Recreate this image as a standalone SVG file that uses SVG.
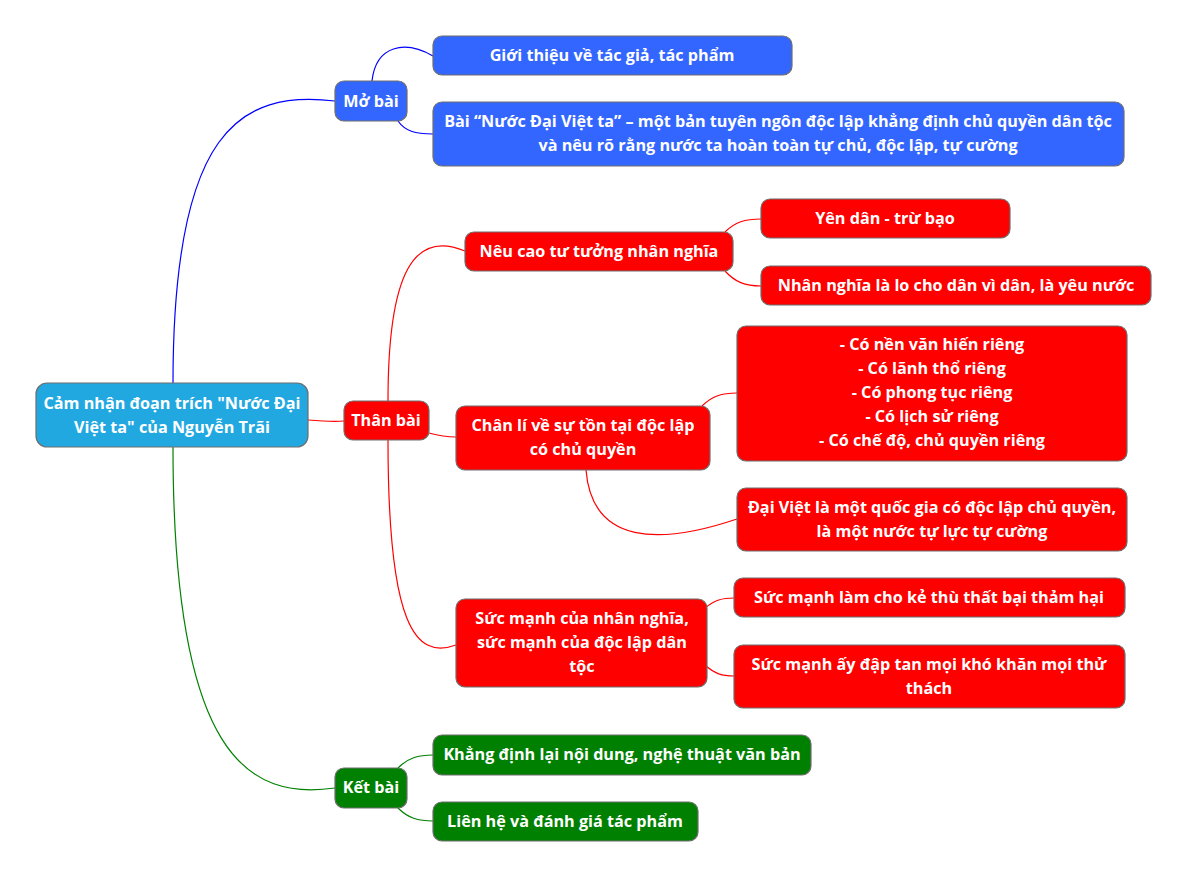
<svg xmlns="http://www.w3.org/2000/svg" width="1189" height="879" viewBox="0 0 1189 879">
<style>
.n rect{stroke:#6e6e6e;stroke-width:1.2}
.root{fill:#22A8E0}
.blue{fill:#3366FF}
.red{fill:#FF0000}
.green{fill:#008000}
text{font-family:"Open Sans","Noto Sans",sans-serif;font-weight:bold;font-size:16.2px;fill:#fff;text-anchor:middle}
.c path{fill:none;stroke-width:1.2}
.cb{stroke:#0000FF}
.cr{stroke:#FF0000}
.cg{stroke:#008000}
</style>
<rect width="1189" height="879" fill="#fff"/>
<g class="c" id="connectors">
<path class="cb" d="M173,383 C173,130 240,90 335,101"/>
<path class="cg" d="M173,447 C173,760 250,800 335,788"/>
<path class="cr" d="M308,420 C320,421 332,422 344,421"/>
<path class="cb" d="M372,81 C376,45 405,40 433,56"/>
<path class="cb" d="M398,121 C405,131 415,134 433,134"/>
<path class="cr" d="M388,401 C388,270 415,230 465,251"/>
<path class="cr" d="M388,440 C388,625 415,660 456,645"/>
<path class="cr" d="M429,433 C440,436 445,437 456,437"/>
<path class="cr" d="M725,232 C735,222 745,219 761,219"/>
<path class="cr" d="M725,271 C735,282 745,286 761,286"/>
<path class="cr" d="M702,406 C712,396 722,393 737,393"/>
<path class="cr" d="M586,470 C592,545 660,545 737,519"/>
<path class="cr" d="M705,608 C715,600 722,598 734,598"/>
<path class="cr" d="M705,665 C715,674 722,676 734,676"/>
<path class="cg" d="M398,768 C408,758 418,755 433,755"/>
<path class="cg" d="M398,808 C408,818 418,821 433,821"/>
</g>
<g class="n" id="root"><rect class="root" x="36" y="383" width="272" height="64" rx="11"/><text x="172" y="409">Cảm nhận đoạn trích "Nước Đại</text><text x="172" y="433">Việt ta" của Nguyễn Trãi</text></g>
<g class="n" id="mobai"><rect class="blue" x="335" y="81" width="72" height="40" rx="9"/><text x="371" y="107">Mở bài</text></g>
<g class="n" id="gioithieu"><rect class="blue" x="433" y="36" width="359" height="39" rx="9"/><text x="612" y="61">Giới thiệu về tác giả, tác phẩm</text></g>
<g class="n" id="bai"><rect class="blue" x="433" y="102" width="691" height="64" rx="9"/><text x="778" y="127">Bài “Nước Đại Việt ta” – một bản tuyên ngôn độc lập khẳng định chủ quyền dân tộc</text><text x="778" y="151">và nêu rõ rằng nước ta hoàn toàn tự chủ, độc lập, tự cường</text></g>
<g class="n" id="thanbai"><rect class="red" x="344" y="401" width="85" height="39" rx="9"/><text x="386" y="426">Thân bài</text></g>
<g class="n" id="neucao"><rect class="red" x="465" y="232" width="268" height="39" rx="9"/><text x="599" y="257">Nêu cao tư tưởng nhân nghĩa</text></g>
<g class="n" id="yendan"><rect class="red" x="761" y="199" width="249" height="39" rx="9"/><text x="885" y="224">Yên dân - trừ bạo</text></g>
<g class="n" id="nhannghia"><rect class="red" x="761" y="266" width="390" height="39" rx="9"/><text x="956" y="291">Nhân nghĩa là lo cho dân vì dân, là yêu nước</text></g>
<g class="n" id="chanli"><rect class="red" x="456" y="406" width="254" height="64" rx="9"/><text x="583" y="431">Chân lí về sự tồn tại độc lập</text><text x="583" y="455">có chủ quyền</text></g>
<g class="n" id="conen"><rect class="red" x="737" y="326" width="390" height="135" rx="9"/><text x="932" y="350">- Có nền văn hiến riêng</text><text x="932" y="374">- Có lãnh thổ riêng</text><text x="932" y="398">- Có phong tục riêng</text><text x="932" y="422">- Có lịch sử riêng</text><text x="932" y="446">- Có chế độ, chủ quyền riêng</text></g>
<g class="n" id="daiviet"><rect class="red" x="737" y="488" width="390" height="63" rx="9"/><text x="932" y="513">Đại Việt là một quốc gia có độc lập chủ quyền,</text><text x="932" y="537">là một nước tự lực tự cường</text></g>
<g class="n" id="sucmanh"><rect class="red" x="456" y="599" width="251" height="88" rx="9"/><text x="582" y="624">Sức mạnh của nhân nghĩa,</text><text x="582" y="648">sức mạnh của độc lập dân</text><text x="582" y="672">tộc</text></g>
<g class="n" id="sucmanhlam"><rect class="red" x="734" y="578" width="391" height="39" rx="9"/><text x="929" y="603">Sức mạnh làm cho kẻ thù thất bại thảm hại</text></g>
<g class="n" id="sucmanhay"><rect class="red" x="734" y="645" width="391" height="63" rx="9"/><text x="929" y="670">Sức mạnh ấy đập tan mọi khó khăn mọi thử</text><text x="929" y="694">thách</text></g>
<g class="n" id="ketbai"><rect class="green" x="335" y="768" width="72" height="40" rx="9"/><text x="371" y="793">Kết bài</text></g>
<g class="n" id="khangdinh"><rect class="green" x="433" y="735" width="378" height="40" rx="9"/><text x="622" y="760">Khẳng định lại nội dung, nghệ thuật văn bản</text></g>
<g class="n" id="lienhe"><rect class="green" x="433" y="802" width="265" height="39" rx="9"/><text x="565" y="827">Liên hệ và đánh giá tác phẩm</text></g>
</svg>
